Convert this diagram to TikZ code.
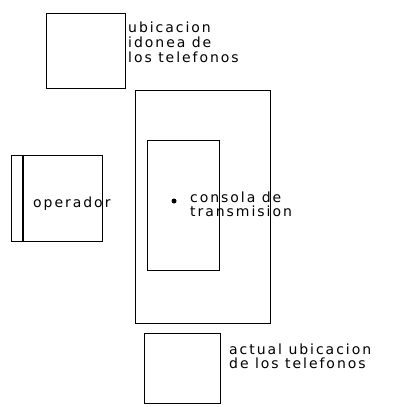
\documentclass[tikz,border=0pt]{standalone}
\usepackage{fontspec}
\setmainfont{DejaVu Sans}
\usetikzlibrary{calc}

\begin{document}
\begin{tikzpicture}[x=1pt,y=-1pt]
      \tikzstyle{every node} = [font=\fontsize{14}{13.5}\selectfont\addfontfeature{LetterSpace=14}]
      \tikzstyle{box} = [draw, line width=1.4pt, inner sep=0pt, anchor=north west]
      \tikzstyle{note} = [anchor=north west, align=left, inner sep=0pt]
      \useasboundingbox (0,0) rectangle (402,407);
      % Boxes
      \node[box, minimum width=79pt, minimum height=75pt] (idealPhones) at (46,13) {};
      \node[box, minimum width=135pt, minimum height=233pt] (room) at (135,90) {};
      \node[box, minimum width=72pt, minimum height=130pt] (console) at (147,140) {};
      \node[box, minimum width=91pt, minimum height=86pt] (operator) at (11,155) {};
      \node[box, minimum width=76pt, minimum height=70pt] (actualPhones) at (144,333) {};
      \draw[line width=1.4pt]
      ($(operator.north west)+(12,0)$) -- ($(operator.south west)+(12,0)$);
      % Labels
      \node[note, font=\fontsize{14}{15}\selectfont\addfontfeature{LetterSpace=14}] (idealText) at (128,22)
      {ubicacion\\idonea de\\los telefonos};
      \node[note, anchor=base west] (operatorText) at (33,207) {operador};
      \fill (174,201) circle (2.5pt) coordinate (consoleDot);
      \node[note] (consoleText) at (190,192) {consola de\\transmision};
      \node[note] (actualText) at (229,344) {actual ubicacion\\de los telefonos};
    \end{tikzpicture}
\end{document}
